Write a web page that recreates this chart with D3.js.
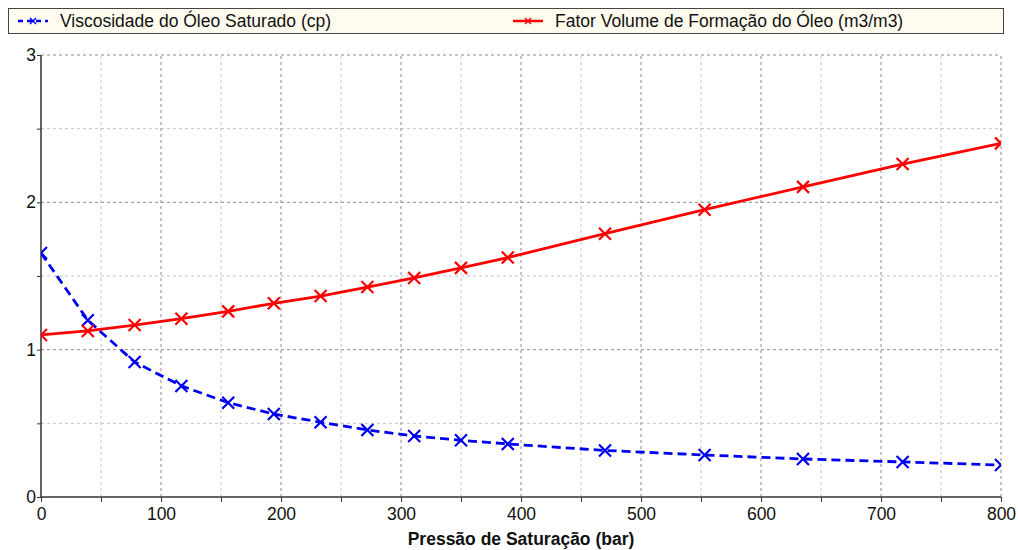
<!DOCTYPE html>
<html>
<head>
<meta charset="utf-8">
<script src="https://cdn.jsdelivr.net/npm/d3@7"></script>
<style>
body{margin:0;background:#fff;}
text{font-family:"Liberation Sans",Arial,sans-serif;}
</style>
</head>
<body>
<div class="chart"></div>
<script>
// pressao de saturacao (bar)
const pressure=[0,39,78,117,156,194,233,272,311,350,389,470,553,635,718,800];
const viscosity=[1.656,1.20,0.916,0.754,0.640,0.563,0.507,0.455,0.414,0.385,0.360,0.316,0.285,0.258,0.238,0.217];
const volumeFactor=[1.10,1.127,1.167,1.21,1.260,1.315,1.364,1.425,1.487,1.555,1.625,1.787,1.950,2.105,2.260,2.400];
const xTicks=[0,100,200,300,400,500,600,700,800];
const yTicks=[0,1,2,3];
const seriesNames=['Viscosidade do Óleo Saturado (cp)','Fator Volume de Formação do Óleo (m3/m3)'];

const width=1018, height=550;
const m={top:55,right:17,bottom:53,left:41};
const fs=17.5;

const svg=d3.select('.chart').append('svg')
	.attr('width',width)
	.attr('height',height)

const x=d3.scaleLinear().domain([0,800]).range([m.left,width-m.right]);
const y=d3.scaleLinear().domain([0,3]).range([height-m.bottom,m.top]);

// grid
const minorX=d3.range(50,800,100);
const minorY=d3.range(0.5,3,1);
svg.append('g').selectAll('line')
	.data(minorX).enter().append('line')
	.attr('x1',d=>x(d)).attr('x2',d=>x(d))
	.attr('y1',y(0)).attr('y2',y(3))
	.attr('stroke','#c4c4c4').attr('stroke-dasharray','3,3')
svg.append('g').selectAll('line')
	.data(minorY).enter().append('line')
	.attr('y1',d=>y(d)).attr('y2',d=>y(d))
	.attr('x1',x(0)).attr('x2',x(800))
	.attr('stroke','#c4c4c4').attr('stroke-dasharray','3,3')
svg.append('g').selectAll('line')
	.data(xTicks.slice(1)).enter().append('line')
	.attr('x1',d=>x(d)).attr('x2',d=>x(d))
	.attr('y1',y(0)).attr('y2',y(3))
	.attr('stroke','#8a8a8a').attr('stroke-dasharray','3,3')
svg.append('g').selectAll('line')
	.data(yTicks.slice(1)).enter().append('line')
	.attr('y1',d=>y(d)).attr('y2',d=>y(d))
	.attr('x1',x(0)).attr('x2',x(800))
	.attr('stroke','#8a8a8a').attr('stroke-dasharray','3,3')

// axes
const xAxis=svg.append('g')
	.attr('transform','translate(0,'+y(0)+')')
	.call(d3.axisBottom(x).tickValues(d3.range(0,801,50)).tickSize(5)
		.tickFormat(d=>d%100===0?d:''))
const yAxis=svg.append('g')
	.attr('transform','translate('+x(0)+',0)')
	.call(d3.axisLeft(y).tickValues(d3.range(0,3.01,0.5)).tickSize(4)
		.tickFormat(d=>d%1===0?d:''))
;[xAxis,yAxis].forEach(a=>{
	a.select('.domain').attr('stroke','#333').attr('stroke-width',1.5)
	a.selectAll('.tick line').attr('stroke','#333')
	a.selectAll('text').attr('font-size',fs).attr('fill','#111')
		.style('font-family','"Liberation Sans",Arial,sans-serif')
})
xAxis.select('.domain').attr('d','M'+x(0)+',0H'+x(800))
yAxis.select('.domain').attr('d','M0,'+y(0)+'V'+y(3))
xAxis.selectAll('text').attr('dy','0.85em')
yAxis.selectAll('text').attr('x',-5)

svg.append('text')
	.attr('x',(x(0)+x(800))/2).attr('y',545)
	.attr('text-anchor','middle')
	.attr('font-size',fs).attr('font-weight','bold').attr('fill','#111')
	.text('Pressão de Saturação (bar)')

// clip
svg.append('clipPath').attr('id','plot')
	.append('rect')
	.attr('x',x(0)).attr('y',y(3))
	.attr('width',x(800)-x(0)).attr('height',y(0)-y(3))

const cross=(sx,sy,s)=>'M'+(sx-s)+','+(sy-s)+'L'+(sx+s)+','+(sy+s)+'M'+(sx-s)+','+(sy+s)+'L'+(sx+s)+','+(sy-s);

function renderSeries(values,color,dash){
	const g=svg.append('g').attr('clip-path','url(#plot)');
	const line=d3.line().x((d,i)=>x(pressure[i])).y(d=>y(d));
	g.append('path')
		.attr('d',line(values))
		.attr('fill','none')
		.attr('stroke',color)
		.attr('stroke-width',2.8)
		.attr('stroke-dasharray',dash)
	g.selectAll('path.mk')
		.data(values).enter().append('path')
		.attr('class','mk')
		.attr('d',(d,i)=>cross(x(pressure[i]),y(d),6))
		.attr('stroke',color)
		.attr('stroke-width',2.2)
}
renderSeries(viscosity,'#0000f0','9,5');
renderSeries(volumeFactor,'#ff0000',null);

// legend
svg.append('rect')
	.attr('x',8.5).attr('y',8.5).attr('width',995).attr('height',25)
	.attr('fill','#fffbef').attr('stroke','#444')
const legend=[{name:seriesNames[0],color:'#0000f0',dash:'5,4',lx:18},
	{name:seriesNames[1],color:'#ff0000',dash:null,lx:513}];
legend.forEach(l=>{
	svg.append('line')
		.attr('x1',l.lx).attr('x2',l.lx+30).attr('y1',21).attr('y2',21)
		.attr('stroke',l.color).attr('stroke-width',2.5).attr('stroke-dasharray',l.dash)
	svg.append('path')
		.attr('d',cross(l.lx+15,21,3))
		.attr('stroke',l.color).attr('stroke-width',1.5)
	svg.append('text')
		.attr('x',l.lx+42).attr('y',27)
		.attr('font-size',fs).attr('fill','#111')
		.text(l.name)
})
</script>
</body>
</html>
